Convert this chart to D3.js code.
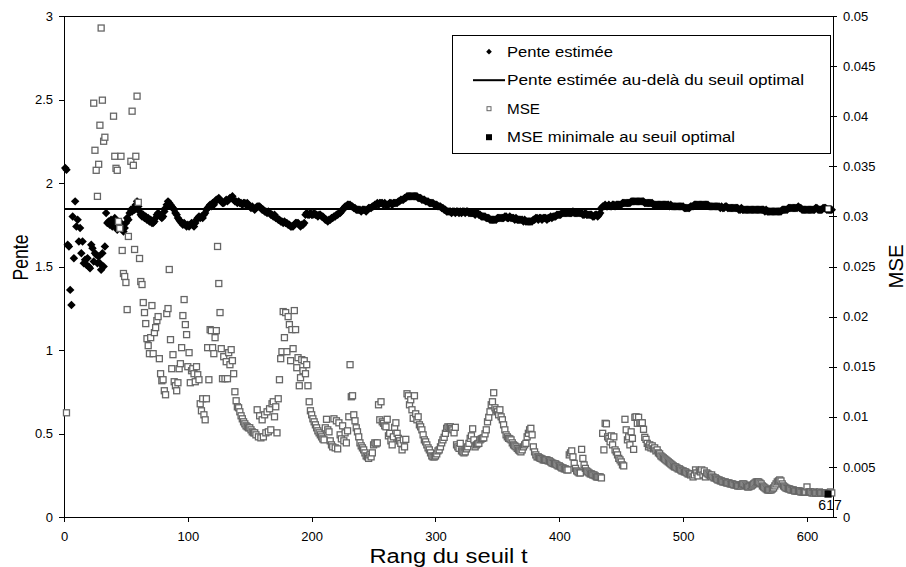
<!DOCTYPE html>
<html>
<head>
<meta charset="utf-8">
<script src="https://cdn.jsdelivr.net/npm/d3@7"></script>
<style>
    body { margin: 0; background: #fff; }
    text { font-family: "Liberation Sans", Arial, Helvetica, sans-serif; fill: #000; }
</style>
</head>
<body>
<div id="graph"></div>
<script>
// Pente estimée pour chaque rang du seuil (rang 1 à 620)
const pente = [
    2.09, 2.08, 1.63, 1.62, 1.36, 1.27, 1.80, 1.55, 1.89, 1.74,
    1.78, 1.65, 1.73, 1.58, 1.65, 1.52, 1.54, 1.51, 1.55, 1.50,
    1.49, 1.63, 1.61, 1.53, 1.58, 1.57, 1.52, 1.56, 1.52, 1.48,
    1.58, 1.50, 1.62, 1.82, 1.76, 1.77, 1.75, 1.78, 1.74, 1.76,
    1.79, 1.74, 1.72, 1.75, 1.73, 1.76, 1.74, 1.71, 1.73, 1.76,
    1.79, 1.78, 1.82, 1.84, 1.83, 1.85, 1.84, 1.87, 1.89, 1.86,
    1.83, 1.81, 1.80, 1.81, 1.79, 1.80, 1.78, 1.79, 1.77, 1.78,
    1.76, 1.76, 1.77, 1.79, 1.81, 1.82, 1.81, 1.80, 1.79, 1.80,
    1.83, 1.85, 1.87, 1.89, 1.88, 1.87, 1.86, 1.85, 1.84, 1.82,
    1.81, 1.79, 1.78, 1.77, 1.76, 1.75, 1.76, 1.75, 1.74, 1.75,
    1.74, 1.75, 1.76, 1.75, 1.74, 1.76, 1.78, 1.79, 1.80, 1.79,
    1.80, 1.79, 1.81, 1.82, 1.84, 1.85, 1.86, 1.87, 1.86, 1.88,
    1.87, 1.89, 1.90, 1.90, 1.91, 1.90, 1.89, 1.88, 1.88, 1.89,
    1.90, 1.89, 1.90, 1.91, 1.91, 1.92, 1.90, 1.89, 1.89, 1.88,
    1.89, 1.88, 1.88, 1.87, 1.88, 1.88, 1.87, 1.88, 1.87, 1.86,
    1.85, 1.86, 1.85, 1.84, 1.85, 1.86, 1.86, 1.86, 1.85, 1.84,
    1.84, 1.83, 1.83, 1.82, 1.83, 1.82, 1.81, 1.81, 1.80, 1.81,
    1.79, 1.79, 1.78, 1.78, 1.77, 1.77, 1.76, 1.77, 1.76, 1.76,
    1.75, 1.75, 1.74, 1.74, 1.74, 1.75, 1.76, 1.76, 1.76, 1.75,
    1.74, 1.75, 1.75, 1.76, 1.81, 1.82, 1.81, 1.81, 1.82, 1.81,
    1.81, 1.82, 1.81, 1.81, 1.80, 1.81, 1.81, 1.80, 1.80, 1.79,
    1.78, 1.78, 1.77, 1.78, 1.78, 1.79, 1.79, 1.80, 1.80, 1.81,
    1.81, 1.82, 1.82, 1.83, 1.84, 1.85, 1.86, 1.86, 1.87, 1.87,
    1.87, 1.86, 1.86, 1.85, 1.85, 1.84, 1.84, 1.84, 1.84, 1.83,
    1.84, 1.84, 1.84, 1.83, 1.84, 1.85, 1.85, 1.85, 1.86, 1.86,
    1.87, 1.87, 1.88, 1.87, 1.88, 1.88, 1.88, 1.87, 1.88, 1.87,
    1.87, 1.87, 1.88, 1.88, 1.87, 1.88, 1.88, 1.88, 1.88, 1.89,
    1.89, 1.90, 1.90, 1.90, 1.91, 1.91, 1.92, 1.92, 1.92, 1.92,
    1.92, 1.92, 1.92, 1.92, 1.92, 1.91, 1.91, 1.91, 1.90, 1.90,
    1.90, 1.89, 1.89, 1.89, 1.88, 1.88, 1.88, 1.88, 1.87, 1.87,
    1.87, 1.86, 1.86, 1.86, 1.85, 1.85, 1.84, 1.84, 1.83, 1.83,
    1.83, 1.83, 1.82, 1.83, 1.83, 1.82, 1.83, 1.83, 1.82, 1.83,
    1.82, 1.83, 1.83, 1.82, 1.83, 1.83, 1.82, 1.82, 1.82, 1.82,
    1.82, 1.81, 1.82, 1.82, 1.81, 1.81, 1.80, 1.80, 1.80, 1.80,
    1.79, 1.79, 1.79, 1.78, 1.78, 1.78, 1.78, 1.78, 1.78, 1.79,
    1.79, 1.79, 1.79, 1.79, 1.79, 1.80, 1.80, 1.79, 1.79, 1.80,
    1.79, 1.79, 1.79, 1.78, 1.79, 1.78, 1.78, 1.78, 1.78, 1.78,
    1.77, 1.78, 1.77, 1.77, 1.77, 1.77, 1.77, 1.77, 1.78, 1.78,
    1.79, 1.79, 1.78, 1.79, 1.79, 1.78, 1.79, 1.79, 1.79, 1.78,
    1.79, 1.79, 1.80, 1.79, 1.80, 1.80, 1.80, 1.81, 1.81, 1.81,
    1.81, 1.82, 1.82, 1.82, 1.82, 1.82, 1.82, 1.82, 1.82, 1.82,
    1.83, 1.82, 1.82, 1.82, 1.82, 1.82, 1.82, 1.82, 1.81, 1.81,
    1.82, 1.81, 1.81, 1.81, 1.81, 1.81, 1.80, 1.80, 1.81, 1.81,
    1.80, 1.81, 1.82, 1.85, 1.86, 1.86, 1.87, 1.86, 1.86, 1.87,
    1.86, 1.86, 1.87, 1.87, 1.86, 1.87, 1.87, 1.87, 1.87, 1.87,
    1.88, 1.88, 1.88, 1.88, 1.88, 1.88, 1.88, 1.89, 1.89, 1.89,
    1.89, 1.89, 1.89, 1.89, 1.89, 1.89, 1.89, 1.89, 1.88, 1.88,
    1.88, 1.88, 1.88, 1.88, 1.88, 1.87, 1.87, 1.87, 1.87, 1.87,
    1.87, 1.87, 1.87, 1.87, 1.87, 1.87, 1.87, 1.87, 1.86, 1.87,
    1.86, 1.86, 1.86, 1.86, 1.86, 1.86, 1.86, 1.86, 1.86, 1.86,
    1.85, 1.85, 1.85, 1.85, 1.85, 1.86, 1.86, 1.86, 1.87, 1.87,
    1.87, 1.87, 1.87, 1.87, 1.87, 1.87, 1.87, 1.87, 1.87, 1.87,
    1.86, 1.86, 1.86, 1.86, 1.86, 1.86, 1.86, 1.86, 1.86, 1.85,
    1.86, 1.85, 1.85, 1.86, 1.86, 1.85, 1.85, 1.85, 1.85, 1.85,
    1.85, 1.85, 1.85, 1.85, 1.84, 1.84, 1.85, 1.84, 1.84, 1.84,
    1.84, 1.84, 1.84, 1.84, 1.84, 1.84, 1.84, 1.84, 1.84, 1.84,
    1.84, 1.84, 1.84, 1.84, 1.84, 1.83, 1.84, 1.83, 1.83, 1.83,
    1.83, 1.83, 1.83, 1.83, 1.83, 1.83, 1.83, 1.83, 1.83, 1.84,
    1.84, 1.84, 1.84, 1.84, 1.85, 1.85, 1.85, 1.85, 1.85, 1.85,
    1.85, 1.85, 1.86, 1.85, 1.85, 1.84, 1.84, 1.84, 1.84, 1.84,
    1.84, 1.84, 1.84, 1.84, 1.84, 1.84, 1.85, 1.85, 1.84, 1.84,
    1.84, 1.84, 1.85, 1.85, 1.85, 1.84, 1.84, 1.84, 1.84, 1.84
]

// MSE (en millièmes) pour chaque rang, null = hors du graphique
const mseX1000 = [
    null, 10.4, null, null, null, null, null, null, null, null,
    null, null, null, null, null, null, null, null, null, null,
    null, null, null, 41.3, 36.6, 34.6, 32.0, 35.2, 39.1, 48.8,
    41.6, 37.5, 37.9, null, null, null, null, null, null, 40.0,
    36.0, 34.8, 34.6, 29.5, 28.8, 36.0, 26.6, 24.3, 24.0, 23.4,
    20.7, 28.0, null, 35.5, 40.5, 35.1, 26.7, 36.0, 42.0, 31.4,
    25.8, 23.5, 23.2, 21.4, 20.4, 19.3, 17.8, 17.1, 16.3, 17.9,
    21.1, 16.3, 18.4, 18.9, 19.6, 20.0, 15.8, 14.3, 13.6, 13.7,
    12.6, 12.2, 20.3, 20.8, 24.7, 17.7, 14.8, 16.2, 13.5, 13.1,
    12.6, 13.4, 14.8, 15.3, 16.9, 20.1, 21.7, 19.2, 18.2, 15.0,
    16.4, 13.4, 14.6, 14.8, 14.3, 13.5, 15.0, 14.2, 13.7, 11.3,
    10.6, 11.8, 10.2, 9.7, 11.8, 16.9, 13.7, 18.7, 18.6, 16.9,
    16.3, 17.9, 18.6, 27.0, 23.3, 20.4, 16.8, 13.8, 16.0, 13.8,
    15.5, 13.8, 16.4, 15.2, 16.7, 15.6, 14.3, 12.5, 11.6, 11.0,
    10.9, 10.5, 10.1, 9.8, 9.5, 9.3, 9.1, 9.0, 8.9, 8.9,
    8.7, 8.5, 8.4, 8.4, 8.2, 10.7, 8.0, 10.1, 7.9, 9.7,
    8.0, 10.2, 8.4, 10.5, 8.5, 10.8, 8.7, 11.3, 11.5, 10.0,
    11.0, 8.4, 11.8, 13.7, 15.8, 16.5, 20.5, 17.9, 20.4, 16.5,
    20.0, 19.2, 15.6, 18.7, 16.8, 20.6, 18.7, 14.9, 15.9, 13.1,
    13.9, 15.7, 14.6, 15.6, 14.3, 15.2, 13.1, 11.5, 10.6, 10.2,
    9.8, 9.5, 9.2, 8.9, 8.6, 8.4, 8.2, 8.0, 7.8, 7.7,
    8.9, 9.75, 8.7, 8.5, 7.6, 7.2, 7.0, 9.8, 6.9, 9.6,
    6.8, 9.4, 8.2, 7.8, 9.1, 7.6, 8.4, 7.4, 8.6, 10.0,
    15.2, 12.0, 12.1, 10.2, 9.6, 8.9, 8.5, 8.0, 7.4, 7.1,
    6.9, 6.7, 6.4, 6.1, 6.0, 5.85, 6.2, 6.0, 6.4, 7.2,
    7.4, 7.3, 7.4, 11.2, 9.7, 11.5, 9.5, 9.35, 9.1, 9.0,
    9.75, 8.1, 8.35, 7.6, 7.2, 8.0, 8.95, 9.4, 8.35, 7.85,
    7.6, 7.35, 6.7, 7.7, 7.0, 7.75, 12.3, 12.1, 11.2, 11.7,
    10.7, 9.85, 12.1, 10.3, 9.7, 10.0, 9.2, 9.0, 8.7, 8.2,
    7.7, 7.5, 7.2, 6.9, 6.7, 6.4, 6.1, 6.0, 6.0, 6.1,
    6.3, 6.6, 6.7, 7.0, 7.4, 7.7, 7.95, 8.35, 8.85, 9.0,
    8.9, 9.0, 8.85, 8.7, 8.4, 8.95, 7.2, 7.0, 6.85, 7.35,
    6.6, 6.5, 6.4, 6.5, 6.8, 7.0, 7.35, 7.85, 8.1, 8.8,
    7.7, 7.0, 7.2, 7.3, 7.35, 7.7, 7.8, 7.85, 7.9, 8.3,
    8.7, 9.5, 9.95, 10.5, 11.2, 11.5, 12.4, 10.9, 10.7, 10.5,
    10.2, 10.7, 10.0, 9.7, 9.2, 8.7, 8.2, 8.0, 7.85, 7.8,
    7.7, 7.4, 7.2, 7.1, 7.0, 6.85, 6.7, 6.6, 6.5, 6.7,
    7.0, 7.2, 7.35, 8.0, 8.35, 8.7, 8.85, 8.2, 7.0, 6.5,
    6.2, 6.0, 6.0, 5.9, 5.85, 5.8, 5.7, 5.7, 5.7, 5.7,
    5.6, 5.6, 5.5, 5.4, 5.35, 5.3, 5.3, 5.2, 5.1, 5.1,
    5.0, 4.9, 4.9, 4.8, 4.8, 4.7, 4.7, 6.2, 6.4, 6.6,
    6.0, 5.35, 4.85, 4.6, 4.5, 4.4, 4.4, 6.75, 5.85, 5.2,
    4.85, 4.6, 4.5, 4.4, 4.3, 4.3, 4.2, 4.2, 4.1, 4.0,
    4.0, 4.0, 4.0, 3.9, 8.35, 6.7, 9.35, 9.3, 8.0, 7.85,
    7.5, 8.1, 7.2, 8.0, 6.7, 6.5, 6.2, 5.85, 5.7, 5.5,
    5.2, 5.1, 9.75, 8.7, 7.7, 8.0, 7.2, 8.5, 7.85, 6.75,
    9.95, 10.0, 9.35, 9.95, 9.4, 9.4, 9.4, 8.75, 7.95, 7.75,
    7.35, 7.0, 7.2, 6.9, 7.1, 6.8, 6.9, 6.6, 6.7, 6.4,
    6.3, 6.1, 6.0, 5.9, 5.8, 5.7, 5.6, 5.5, 5.4, 5.3,
    5.2, 5.1, 5.0, 5.0, 4.9, 4.8, 4.8, 4.7, 4.6, 4.6,
    4.5, 4.5, 4.4, 4.3, 4.3, 4.2, 4.3, 4.0, 4.2, 4.7,
    4.4, 4.1, 4.6, 4.5, 4.7, 4.2, 4.6, 4.0, 4.4, 4.3,
    4.2, 4.1, 4.2, 4.0, 3.9, 3.9, 3.8, 3.7, 3.7, 3.6,
    3.6, 3.5, 3.5, 3.5, 3.4, 3.4, 3.4, 3.3, 3.3, 3.3,
    3.2, 3.2, 3.2, 3.1, 3.1, 3.1, 3.2, 3.3, 3.3, 3.2,
    3.1, 3.0, 3.0, 3.1, 3.1, 3.2, 3.3, 3.4, 3.5, 3.5,
    3.5, 3.4, 3.3, 3.1, 3.0, 2.9, 2.8, 2.7, 2.7, 2.7,
    2.7, 2.8, 2.9, 3.1, 3.3, 3.5, 3.6, 3.7, 3.6, 3.3,
    3.1, 3.0, 2.9, 2.85, 2.8, 2.8, 2.7, 2.7, 2.7, 2.6,
    2.6, 2.6, 2.6, 2.6, 2.5, 2.5, 2.5, 2.5, 2.5, 3.0,
    2.5, 2.5, 2.5, 2.4, 2.4, 2.5, 2.4, 2.4, 2.4, 2.5,
    2.4, 2.4, 2.4, 2.4, 2.4, 2.4, 2.3, 2.4, 2.5, 2.4
]

// Seuil optimal, pente au-delà du seuil et MSE minimale
const seuilOptimal = 617
const penteOptimale = 1.845
const mseMinimale = 0.0023

// Graduations des axes
const rangTicks = [0, 100, 200, 300, 400, 500, 600]
const penteTicks = [0, 0.5, 1, 1.5, 2, 2.5, 3]
const mseTicks = [0, 0.005, 0.01, 0.015, 0.02, 0.025, 0.03, 0.035, 0.04, 0.045, 0.05]

// Légende
const legendeLabels = ["Pente estimée", "Pente estimée au-delà du seuil optimal", "MSE", "MSE minimale au seuil optimal"]
const legendeLargeurs = [106, 297, 33, 228]

const points = pente.map((p, i) => ({
    rang: i + 1,
    pente: p,
    mse: mseX1000[i] == null ? null : mseX1000[i] / 1000
}))


/* ------------------------------------------------------------------------------
    GRAPH
------------------------------------------------------------------------------ */
const margin = { top: 16, right: 73, bottom: 50, left: 64 },
    width = 906 - margin.left - margin.right,
    height = 567 - margin.top - margin.bottom

const svg = d3.select("#graph")
    .append("svg")
    .attr("width", width + margin.left + margin.right)
    .attr("height", height + margin.top + margin.bottom)
    .append("g")
    .attr("transform", "translate(" + margin.left + "," + margin.top + ")")

// Échelles
const x = d3.scaleLinear().domain([0, 621]).range([0, width])
const yPente = d3.scaleLinear().domain([0, 3]).range([height, 0])
const yMSE = d3.scaleLinear().domain([0, 0.05]).range([height, 0])


/* ------------------------------------------------------------------------------
    AXES
------------------------------------------------------------------------------ */
// Axe X
svg.append("g")
    .attr("class", "axe")
    .attr("transform", "translate(0," + height + ")")
    .call(d3.axisBottom(x).tickValues(rangTicks).tickSize(5).tickSizeOuter(0).tickPadding(9.5))

// Axe Y gauche (pente)
svg.append("g")
    .attr("class", "axe")
    .call(d3.axisLeft(yPente).tickValues(penteTicks).tickSize(5).tickSizeOuter(0).tickPadding(6).tickFormat(d => d))

// Axe Y droit (MSE), graduations qui traversent l'axe
svg.append("g")
    .attr("class", "axe")
    .attr("transform", "translate(" + width + ",0)")
    .call(d3.axisRight(yMSE).tickValues(mseTicks).tickSize(4).tickSizeOuter(0).tickPadding(6).tickFormat(d => d))
    .selectAll(".tick line").attr("x1", -4)

// Bord du haut
svg.append("line")
    .attr("x1", 0).attr("x2", width)
    .attr("y1", 0).attr("y2", 0)
    .attr("stroke", "black")
    .attr("shape-rendering", "crispEdges")

svg.selectAll(".axe .domain, .axe .tick line")
    .attr("stroke", "black")
    .attr("shape-rendering", "crispEdges")
svg.selectAll(".axe text")
    .attr("font-size", 13)
    .attr("font-family", "'Liberation Sans', Arial, sans-serif")
    .attr("fill", "black")

// Titres des axes
svg.append("text")
    .attr("text-anchor", "middle")
    .attr("x", width / 2)
    .attr("y", height + 46)
    .attr("font-size", 20)
    .attr("textLength", 158)
    .attr("lengthAdjust", "spacingAndGlyphs")
    .text("Rang du seuil t")

svg.append("text")
    .attr("text-anchor", "middle")
    .attr("transform", "translate(-36," + (height / 2 - 9) + ") rotate(-90)")
    .attr("font-size", 22)
    .attr("textLength", 46)
    .attr("lengthAdjust", "spacingAndGlyphs")
    .text("Pente")

svg.append("text")
    .attr("text-anchor", "middle")
    .attr("transform", "translate(" + (width + 70) + "," + (height / 2) + ") rotate(-90)")
    .attr("font-size", 20)
    .attr("textLength", 44)
    .attr("lengthAdjust", "spacingAndGlyphs")
    .text("MSE")


/* ------------------------------------------------------------------------------
    SÉRIES
------------------------------------------------------------------------------ */
const losange = d3.symbol().type(d3.symbolSquare).size(36)

// Pente estimée
svg.append("g")
    .selectAll("path")
    .data(points)
    .join("path")
    .attr("d", losange)
    .attr("transform", d => "translate(" + x(d.rang) + "," + yPente(d.pente) + ") rotate(45)")
    .attr("fill", "black")

// Pente estimée au-delà du seuil optimal
svg.append("line")
    .attr("x1", x(x.domain()[0]))
    .attr("x2", x(x.domain()[1]))
    .attr("y1", yPente(penteOptimale))
    .attr("y2", yPente(penteOptimale))
    .attr("stroke", "black")
    .attr("stroke-width", 2)

// MSE
svg.append("g")
    .selectAll("rect")
    .data(points.filter(d => d.mse != null))
    .join("rect")
    .attr("x", d => x(d.rang) - 3)
    .attr("y", d => yMSE(d.mse) - 3)
    .attr("width", 6)
    .attr("height", 6)
    .attr("fill", "white")
    .attr("stroke", "#666")
    .attr("stroke-width", 1.3)

// Pente au seuil optimal
svg.append("rect")
    .attr("x", x(seuilOptimal) - 3)
    .attr("y", yPente(penteOptimale) - 3)
    .attr("width", 6)
    .attr("height", 6)
    .attr("fill", "white")
    .attr("stroke", "black")

// MSE minimale au seuil optimal
svg.append("rect")
    .attr("x", x(seuilOptimal) - 3.5)
    .attr("y", yMSE(mseMinimale) - 3.5)
    .attr("width", 7)
    .attr("height", 7)
    .attr("fill", "black")

svg.append("text")
    .attr("text-anchor", "middle")
    .attr("x", x(seuilOptimal) + 2)
    .attr("y", yMSE(mseMinimale) + 16)
    .attr("font-size", 14)
    .text(seuilOptimal)


/* ------------------------------------------------------------------------------
    LÉGENDE
------------------------------------------------------------------------------ */
const legende = svg.append("g")
    .attr("transform", "translate(" + (452 - margin.left) + "," + (35 - margin.top) + ")")

legende.append("rect")
    .attr("width", 378)
    .attr("height", 118)
    .attr("fill", "white")
    .attr("stroke", "black")
    .attr("shape-rendering", "crispEdges")

const ligne = (i) => 16.7 + i * 28.5

legende.selectAll("text")
    .data(legendeLabels)
    .join("text")
    .attr("x", 55)
    .attr("y", (d, i) => ligne(i) + 5)
    .attr("font-size", 14)
    .attr("textLength", (d, i) => legendeLargeurs[i])
    .attr("lengthAdjust", "spacingAndGlyphs")
    .text(d => d)

legende.append("path")
    .attr("d", d3.symbol().type(d3.symbolSquare).size(16))
    .attr("transform", "translate(37," + ligne(0) + ") rotate(45)")
    .attr("fill", "black")

legende.append("line")
    .attr("x1", 21).attr("x2", 53)
    .attr("y1", ligne(1)).attr("y2", ligne(1))
    .attr("stroke", "black")
    .attr("stroke-width", 2)

legende.append("rect")
    .attr("x", 35).attr("y", ligne(2) - 2)
    .attr("width", 4).attr("height", 4)
    .attr("fill", "white")
    .attr("stroke", "#666")

legende.append("rect")
    .attr("x", 34).attr("y", ligne(3) - 3)
    .attr("width", 6).attr("height", 6)
    .attr("fill", "black")
</script>
</body>
</html>
